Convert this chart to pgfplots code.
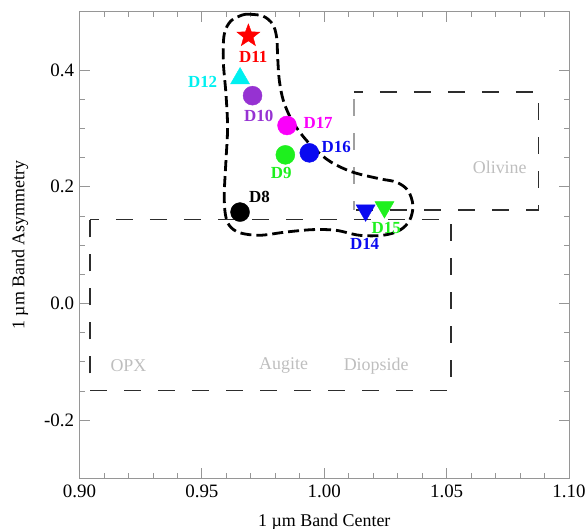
\documentclass[border=0pt]{standalone}
\usepackage{fontspec}
\setmainfont{Liberation Serif}
\usepackage{pgfplots}
\pgfplotsset{compat=1.18}
\definecolor{cpurple}{RGB}{150,50,210}
\definecolor{cgreen}{RGB}{30,240,30}
\definecolor{cblue}{RGB}{10,10,240}
\definecolor{ccyan}{RGB}{0,240,240}
\definecolor{cmag}{RGB}{250,0,250}
\definecolor{axgray}{RGB}{150,150,150}
\definecolor{boxc}{RGB}{45,45,45}
\definecolor{boxl}{RGB}{160,160,160}
\definecolor{labgray}{RGB}{190,190,190}
\pgfdeclareplotmark{fstar}{%
  \pgfpathmoveto{\pgfpointpolar{90}{\pgfplotmarksize}}%
  \pgfpathlineto{\pgfpointpolar{126}{0.42\pgfplotmarksize}}%
  \pgfpathlineto{\pgfpointpolar{162}{\pgfplotmarksize}}%
  \pgfpathlineto{\pgfpointpolar{198}{0.42\pgfplotmarksize}}%
  \pgfpathlineto{\pgfpointpolar{234}{\pgfplotmarksize}}%
  \pgfpathlineto{\pgfpointpolar{270}{0.42\pgfplotmarksize}}%
  \pgfpathlineto{\pgfpointpolar{306}{\pgfplotmarksize}}%
  \pgfpathlineto{\pgfpointpolar{342}{0.42\pgfplotmarksize}}%
  \pgfpathlineto{\pgfpointpolar{18}{\pgfplotmarksize}}%
  \pgfpathlineto{\pgfpointpolar{54}{0.42\pgfplotmarksize}}%
  \pgfpathclose
  \pgfusepathqfillstroke
}
\begin{document}
\begin{tikzpicture}
\path[use as bounding box] (0,0) rectangle (587bp,529bp);
\begin{axis}[
  at={(79.5bp,50.5bp)}, anchor=south west,
  scale only axis, width=489.5bp, height=466.8bp,
  xmin=0.9, xmax=1.1, ymin=-0.3, ymax=0.5,
  xtick={0.9,0.95,1,1.05,1.1}, xticklabels={0.90,0.95,1.00,1.05,1.10},
  ytick={-0.2,0,0.2,0.4}, yticklabels={-0.2,0.0,0.2,0.4},
  minor x tick num=4, minor y tick num=3,
  tick align=inside, major tick length=10bp, minor tick length=5bp,
  axis line style={axgray, line width=0.9bp},
  every tick/.style={axgray, line width=0.8bp},
  ticklabel style={font=\fontsize{19}{19}\selectfont, black},
  xticklabel style={yshift=-3bp},
  yticklabel style={xshift=-2bp},
  label style={font=\fontsize{18}{18}\selectfont},
  xlabel={1 µm Band Center}, ylabel={1 µm Band Asymmetry},
  xlabel style={at={(axis description cs:0.5,-0.0930)}, anchor=center},
  ylabel style={at={(axis description cs:-0.1216,0.5)}, anchor=center},
  clip=false,
]
% pyroxene box
\addplot[boxc, line width=1.7bp, dash pattern=on 17bp off 17bp, dash phase=8bp]
  coordinates {(0.9042,0.1441) (1.0517,0.1441) (1.0517,-0.1490) (0.9042,-0.1490) (0.9042,0.1441)};
% olivine box
\addplot[boxl, line width=1.7bp, dash pattern=on 17bp off 17bp, dash phase=8bp]
  coordinates {(1.0121,0.1607) (1.0121,0.3629)};
\addplot[boxc, line width=1.7bp, dash pattern=on 17bp off 17bp, dash phase=8bp]
  coordinates {(1.0121,0.3629) (1.0875,0.3629) (1.0875,0.1607) (1.0121,0.1607)};
% enclosing curve
\addplot[black, line width=2.8bp, dash pattern=on 11bp off 5bp, smooth, tension=0.55]
  coordinates {
  (0.96869,0.4957) (0.97483,0.4928) (0.97892,0.4786) (0.98056,0.4557)
  (0.98097,0.4215) (0.98166,0.3817) (0.98330,0.3475) (0.98645,0.3162)
  (0.99054,0.2906) (0.99599,0.2650) (1.00282,0.2421) (1.01167,0.2250)
  (1.02260,0.2137) (1.02943,0.2079) (1.03418,0.1937) (1.03623,0.1680)
  (1.03488,0.1424) (1.03078,0.1253) (1.02395,0.1168) (1.01441,0.1168)
  (1.00487,0.1253) (0.99529,0.1265) (0.98440,0.1224) (0.97348,0.1168)
  (0.96529,0.1214) (0.96120,0.1338) (0.95956,0.1538) (0.95915,0.1880)
  (0.95984,0.2450) (0.96050,0.3019) (0.95984,0.3590) (0.95874,0.4159)
  (0.95915,0.4615) (0.96189,0.4843) (0.96664,0.4945) (0.96869,0.4957)};
% category labels
\node[text=labgray, font=\fontsize{18}{18}\selectfont] at (axis cs:1.0717,0.2335) {Olivine};
\node[text=labgray, font=\fontsize{18}{18}\selectfont] at (axis cs:0.9200,-0.1067) {OPX};
\node[text=labgray, font=\fontsize{18}{18}\selectfont] at (axis cs:0.9834,-0.1067) {Augite};
\node[text=labgray, font=\fontsize{18}{18}\selectfont] at (axis cs:1.0212,-0.1067) {Diopside};
% data points
\addplot[only marks, mark=fstar, mark size=12bp, mark options={draw=red, fill=red}] coordinates {(0.9690,0.4586)};
\addplot[only marks, mark=triangle*, mark size=11bp, mark options={draw=ccyan, fill=ccyan}] coordinates {(0.9656,0.3856)};
\addplot[only marks, mark=*, mark size=9.5bp, mark options={draw=cpurple, fill=cpurple}] coordinates {(0.9707,0.3561)};
\addplot[only marks, mark=*, mark size=9.5bp, mark options={draw=cmag, fill=cmag}] coordinates {(0.9848,0.3050)};
\addplot[only marks, mark=*, mark size=9.5bp, mark options={draw=cgreen, fill=cgreen}] coordinates {(0.9841,0.2547)};
\addplot[only marks, mark=*, mark size=9.5bp, mark options={draw=cblue, fill=cblue}] coordinates {(0.9939,0.2581)};
\addplot[only marks, mark=*, mark size=9.5bp, mark options={draw=black, fill=black}] coordinates {(0.9656,0.1566)};
\addplot[only marks, mark=triangle*, mark size=11bp, mark options={draw=cblue, fill=cblue, rotate=180}] coordinates {(1.0169,0.1595)};
\addplot[only marks, mark=triangle*, mark size=11bp, mark options={draw=cgreen, fill=cgreen, rotate=180}] coordinates {(1.0246,0.1651)};
% point labels
\node[text=red, font=\fontsize{17}{17}\selectfont\bfseries] at (axis cs:0.9710,0.4227) {D11};
\node[text=ccyan, font=\fontsize{17}{17}\selectfont\bfseries] at (axis cs:0.9503,0.3800) {D12};
\node[text=cpurple, font=\fontsize{17}{17}\selectfont\bfseries] at (axis cs:0.9732,0.3219) {D10};
\node[text=cmag, font=\fontsize{17}{17}\selectfont\bfseries] at (axis cs:0.9975,0.3090) {D17};
\node[text=cgreen, font=\fontsize{17}{17}\selectfont\bfseries] at (axis cs:0.9824,0.2239) {D9};
\node[text=cblue, font=\fontsize{17}{17}\selectfont\bfseries] at (axis cs:1.0049,0.2689) {D16};
\node[text=black, font=\fontsize{17}{17}\selectfont\bfseries] at (axis cs:0.9735,0.1822) {D8};
\node[text=cblue, font=\fontsize{17}{17}\selectfont\bfseries] at (axis cs:1.0165,0.1026) {D14};
\node[text=cgreen, font=\fontsize{17}{17}\selectfont\bfseries] at (axis cs:1.0253,0.1299) {D15};
\end{axis}
\end{tikzpicture}
\end{document}
